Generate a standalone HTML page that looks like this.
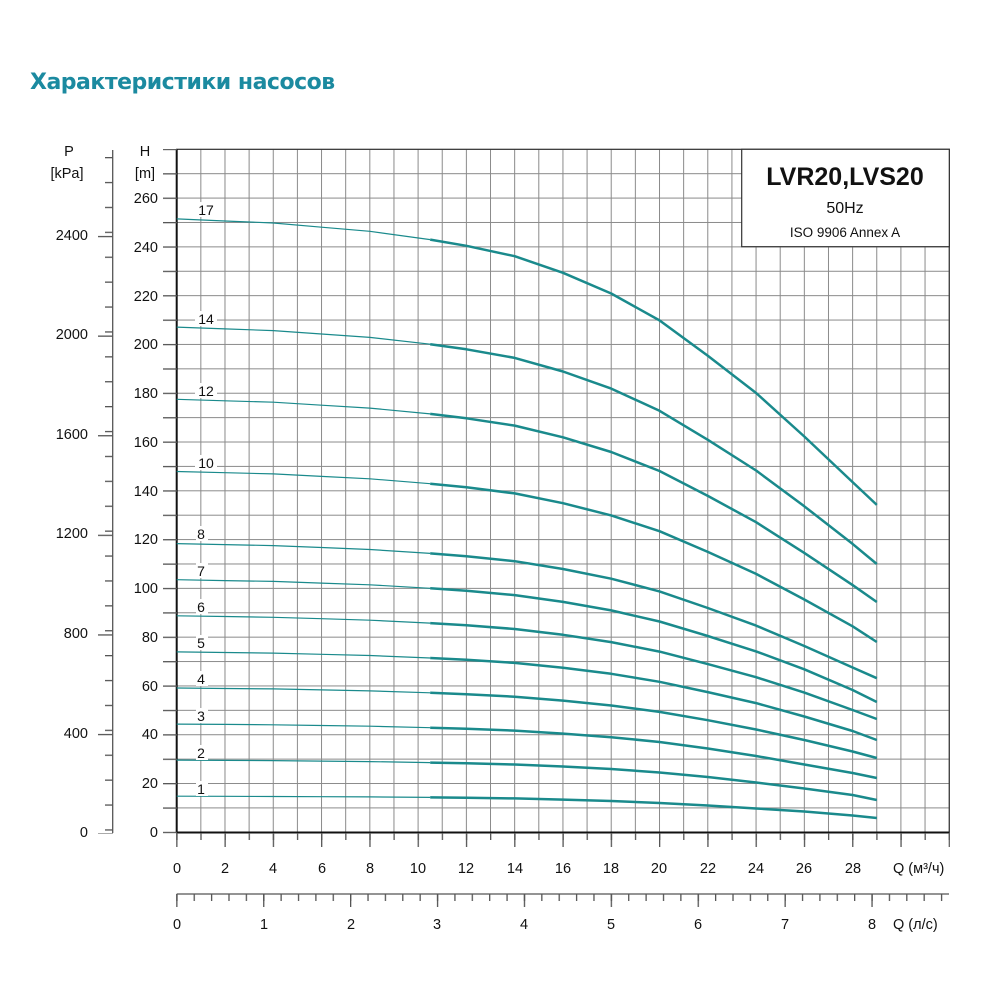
<!DOCTYPE html>
<html><head><meta charset="utf-8"><style>
html,body{margin:0;padding:0;background:#fff;}
svg{display:block;font-family:"Liberation Sans",Arial,sans-serif;}
</style></head><body>
<svg width="1000" height="1000" viewBox="0 0 1000 1000" xmlns="http://www.w3.org/2000/svg">
<defs>
<pattern id="gv" patternUnits="userSpaceOnUse" x="176.2" y="0" width="24.14" height="10"><rect x="0" y="0" width="1" height="10" fill="#8a8a8a"/></pattern>
<pattern id="gh" patternUnits="userSpaceOnUse" x="0" y="148.8" width="10" height="24.393"><rect x="0" y="0" width="10" height="1" fill="#8a8a8a"/></pattern>
<pattern id="tv1" patternUnits="userSpaceOnUse" x="176.2" y="0" width="24.14" height="10"><rect x="0" y="0" width="1.3" height="10" fill="#555"/></pattern>
<pattern id="tv2" patternUnits="userSpaceOnUse" x="176.2" y="0" width="48.28" height="10"><rect x="0" y="0" width="1.3" height="10" fill="#555"/></pattern>
<pattern id="th" patternUnits="userSpaceOnUse" x="0" y="148.8" width="10" height="24.393"><rect x="0" y="0" width="10" height="1.3" fill="#555"/></pattern>
<pattern id="pm" patternUnits="userSpaceOnUse" x="0" y="7.6" width="10" height="24.9"><rect x="0" y="0" width="10" height="1.3" fill="#555"/></pattern>
<pattern id="pM" patternUnits="userSpaceOnUse" x="0" y="36.7" width="10" height="99.6"><rect x="0" y="0" width="10" height="1.3" fill="#555"/></pattern>
<pattern id="lm" patternUnits="userSpaceOnUse" x="176.2" y="0" width="17.38" height="10"><rect x="0" y="0" width="1.3" height="10" fill="#555"/></pattern>
<pattern id="lM" patternUnits="userSpaceOnUse" x="176.2" y="0" width="86.9" height="10"><rect x="0" y="0" width="1.3" height="10" fill="#555"/></pattern>
</defs>

<text x="30" y="89" font-size="22" font-weight="bold" fill="#1b8aa0" font-family="'DejaVu Sans','Liberation Sans',sans-serif" letter-spacing="-0.5">Характеристики насосов</text>

<rect x="176.7" y="149.3" width="772.6" height="683" fill="url(#gv)"/>
<rect x="176.7" y="149.3" width="772.6" height="683" fill="url(#gh)"/>
<rect x="176.7" y="149.3" width="772.6" height="683" fill="none" stroke="#333" stroke-width="1.2"/>
<line x1="176.7" y1="149.3" x2="176.7" y2="833" stroke="#111" stroke-width="2"/>
<line x1="176.7" y1="832.5" x2="949.3" y2="832.5" stroke="#111" stroke-width="2"/>

<rect x="176" y="833" width="774" height="7" fill="url(#tv1)"/>
<rect x="176" y="833" width="774" height="14" fill="url(#tv2)"/>
<rect x="163" y="149" width="14" height="685" fill="url(#th)"/>
<line x1="112.7" y1="150" x2="112.7" y2="833" stroke="#555" stroke-width="1.3"/>
<rect x="105" y="150" width="8" height="684" fill="url(#pm)"/>
<rect x="98" y="150" width="15" height="684" fill="url(#pM)"/>
<line x1="176.7" y1="894" x2="949" y2="894" stroke="#555" stroke-width="1.3"/>
<rect x="176" y="894" width="774" height="7" fill="url(#lm)"/>
<rect x="176" y="894" width="774" height="13" fill="url(#lM)"/>

<rect x="741.7" y="149.3" width="207.6" height="97.4" fill="#fff" stroke="#333" stroke-width="1.2"/>
<text x="845" y="185" font-size="25" font-weight="bold" text-anchor="middle" fill="#111">LVR20,LVS20</text>
<text x="845" y="213" font-size="16" text-anchor="middle" fill="#111">50Hz</text>
<text x="845" y="237" font-size="13.5" text-anchor="middle" fill="#111">ISO 9906 Annex A</text>

<g fill="none" stroke="#1a8a8c" stroke-width="1.2" stroke-linejoin="round">
<path d="M176.7,218.9 L225,221 L273.3,223 L321.5,227.2 L369.8,231.3 L430.2,239.6"/>
<path d="M176.7,327.1 L225,328.9 L273.3,330.6 L321.5,334 L369.8,337.4 L430.2,344.2"/>
<path d="M176.7,399.3 L225,400.8 L273.3,402.2 L321.5,405.2 L369.8,408.1 L430.2,413.9"/>
<path d="M176.7,471.5 L225,472.7 L273.3,473.9 L321.5,476.4 L369.8,478.8 L430.2,483.7"/>
<path d="M176.7,543.6 L225,544.6 L273.3,545.6 L321.5,547.5 L369.8,549.5 L430.2,553.4"/>
<path d="M176.7,579.7 L225,580.6 L273.3,581.4 L321.5,583.1 L369.8,584.8 L430.2,588.3"/>
<path d="M176.7,615.8 L225,616.5 L273.3,617.3 L321.5,618.7 L369.8,620.2 L430.2,623.1"/>
<path d="M176.7,651.9 L225,652.5 L273.3,653.1 L321.5,654.3 L369.8,655.5 L430.2,658"/>
<path d="M176.7,688 L225,688.5 L273.3,688.9 L321.5,689.9 L369.8,690.9 L430.2,692.8"/>
<path d="M176.7,724.1 L225,724.4 L273.3,724.8 L321.5,725.5 L369.8,726.2 L430.2,727.7"/>
<path d="M176.7,760.1 L225,760.4 L273.3,760.6 L321.5,761.1 L369.8,761.6 L430.2,762.6"/>
<path d="M176.7,796.2 L225,796.3 L273.3,796.5 L321.5,796.7 L369.8,796.9 L430.2,797.4"/>
</g>
<g fill="none" stroke="#1a8a8c" stroke-width="2.5" stroke-linejoin="round">
<path d="M430.2,239.6 L466.4,245.8 L514.7,256.2 L563,272.8 L611.2,293.5 L659.5,320.4 L707.8,355.7 L756.1,393 L804.3,436.5 L852.6,482.1 L876.8,504.9"/>
<path d="M430.2,344.2 L466.4,349.3 L514.7,357.9 L563,371.5 L611.2,388.6 L659.5,410.8 L707.8,439.8 L756.1,470.5 L804.3,506.3 L852.6,543.9 L876.8,564"/>
<path d="M430.2,413.9 L466.4,418.3 L514.7,425.6 L563,437.3 L611.2,452 L659.5,471 L707.8,495.9 L756.1,522.2 L804.3,552.9 L852.6,585.1 L876.8,602"/>
<path d="M430.2,483.7 L466.4,487.3 L514.7,493.4 L563,503.2 L611.2,515.4 L659.5,531.2 L707.8,551.9 L756.1,573.9 L804.3,599.5 L852.6,626.3 L876.8,642"/>
<path d="M430.2,553.4 L466.4,556.3 L514.7,561.2 L563,569 L611.2,578.7 L659.5,591.4 L707.8,608 L756.1,625.6 L804.3,646 L852.6,667.5 L876.8,678.2"/>
<path d="M430.2,588.3 L466.4,590.8 L514.7,595.1 L563,601.9 L611.2,610.4 L659.5,621.5 L707.8,636 L756.1,651.4 L804.3,669.3 L852.6,690 L876.8,702"/>
<path d="M430.2,623.1 L466.4,625.3 L514.7,629 L563,634.8 L611.2,642.1 L659.5,651.6 L707.8,664.1 L756.1,677.2 L804.3,692.6 L852.6,710 L876.8,719"/>
<path d="M430.2,658 L466.4,659.8 L514.7,662.9 L563,667.7 L611.2,673.8 L659.5,681.8 L707.8,692.1 L756.1,703.1 L804.3,716.5 L852.6,731 L876.8,740"/>
<path d="M430.2,692.8 L466.4,694.3 L514.7,696.7 L563,700.6 L611.2,705.5 L659.5,711.9 L707.8,720.2 L756.1,729.5 L804.3,740 L852.6,751.5 L876.8,758"/>
<path d="M430.2,727.7 L466.4,728.8 L514.7,730.6 L563,733.6 L611.2,737.2 L659.5,742 L707.8,748.5 L756.1,756 L804.3,764.5 L852.6,773 L876.8,778"/>
<path d="M430.2,762.6 L466.4,763.3 L514.7,764.5 L563,766.5 L611.2,769 L659.5,772.5 L707.8,777 L756.1,782.5 L804.3,788.5 L852.6,795 L876.8,800"/>
<path d="M430.2,797.4 L466.4,797.8 L514.7,798.4 L563,799.6 L611.2,801 L659.5,803 L707.8,805.5 L756.1,808.5 L804.3,811.5 L852.6,815.5 L876.8,818"/>
</g>

<g font-size="14" fill="#111" text-anchor="middle">
<rect x="195" y="202" width="22" height="15" fill="#fff"/><text x="206" y="215">17</text>
<rect x="195" y="311" width="22" height="15" fill="#fff"/><text x="206" y="324">14</text>
<rect x="195" y="383" width="22" height="15" fill="#fff"/><text x="206" y="396">12</text>
<rect x="195" y="455" width="22" height="15" fill="#fff"/><text x="206" y="468">10</text>
<rect x="196" y="526" width="12" height="15" fill="#fff"/><text x="201" y="539">8</text>
<rect x="196" y="563" width="12" height="15" fill="#fff"/><text x="201" y="576">7</text>
<rect x="196" y="599" width="12" height="15" fill="#fff"/><text x="201" y="612">6</text>
<rect x="196" y="635" width="12" height="15" fill="#fff"/><text x="201" y="648">5</text>
<rect x="196" y="671" width="12" height="15" fill="#fff"/><text x="201" y="684">4</text>
<rect x="196" y="708" width="12" height="15" fill="#fff"/><text x="201" y="721">3</text>
<rect x="196" y="745" width="12" height="15" fill="#fff"/><text x="201" y="758">2</text>
<rect x="196" y="781" width="12" height="15" fill="#fff"/><text x="201" y="794">1</text>
</g>

<g font-size="14.5" fill="#111">
<text x="69" y="156" text-anchor="middle">P</text>
<text x="67" y="178" text-anchor="middle">[kPa]</text>
<text x="145" y="156" text-anchor="middle">H</text>
<text x="145" y="178" text-anchor="middle">[m]</text>
</g>
<g font-size="14.5" fill="#111" text-anchor="end">
<text x="158" y="837">0</text><text x="158" y="788">20</text><text x="158" y="739">40</text><text x="158" y="691">60</text>
<text x="158" y="642">80</text><text x="158" y="593">100</text><text x="158" y="544">120</text><text x="158" y="496">140</text>
<text x="158" y="447">160</text><text x="158" y="398">180</text><text x="158" y="349">200</text><text x="158" y="301">220</text>
<text x="158" y="252">240</text><text x="158" y="203">260</text>
<text x="88" y="837">0</text><text x="88" y="738">400</text><text x="88" y="638">800</text><text x="88" y="538">1200</text>
<text x="88" y="439">1600</text><text x="88" y="339">2000</text><text x="88" y="240">2400</text>
</g>
<g font-size="14.5" fill="#111" text-anchor="middle">
<text x="177" y="873">0</text><text x="225" y="873">2</text><text x="273" y="873">4</text><text x="322" y="873">6</text>
<text x="370" y="873">8</text><text x="418" y="873">10</text><text x="466" y="873">12</text><text x="515" y="873">14</text>
<text x="563" y="873">16</text><text x="611" y="873">18</text><text x="659" y="873">20</text><text x="708" y="873">22</text>
<text x="756" y="873">24</text><text x="804" y="873">26</text><text x="853" y="873">28</text>
<text x="177" y="929">0</text><text x="264" y="929">1</text><text x="351" y="929">2</text><text x="437" y="929">3</text>
<text x="524" y="929">4</text><text x="611" y="929">5</text><text x="698" y="929">6</text><text x="785" y="929">7</text>
<text x="872" y="929">8</text>
</g>
<text x="893" y="873" font-size="14.5" fill="#111">Q (м³/ч)</text>
<text x="893" y="929" font-size="14.5" fill="#111">Q (л/с)</text>
</svg>
</body></html>
